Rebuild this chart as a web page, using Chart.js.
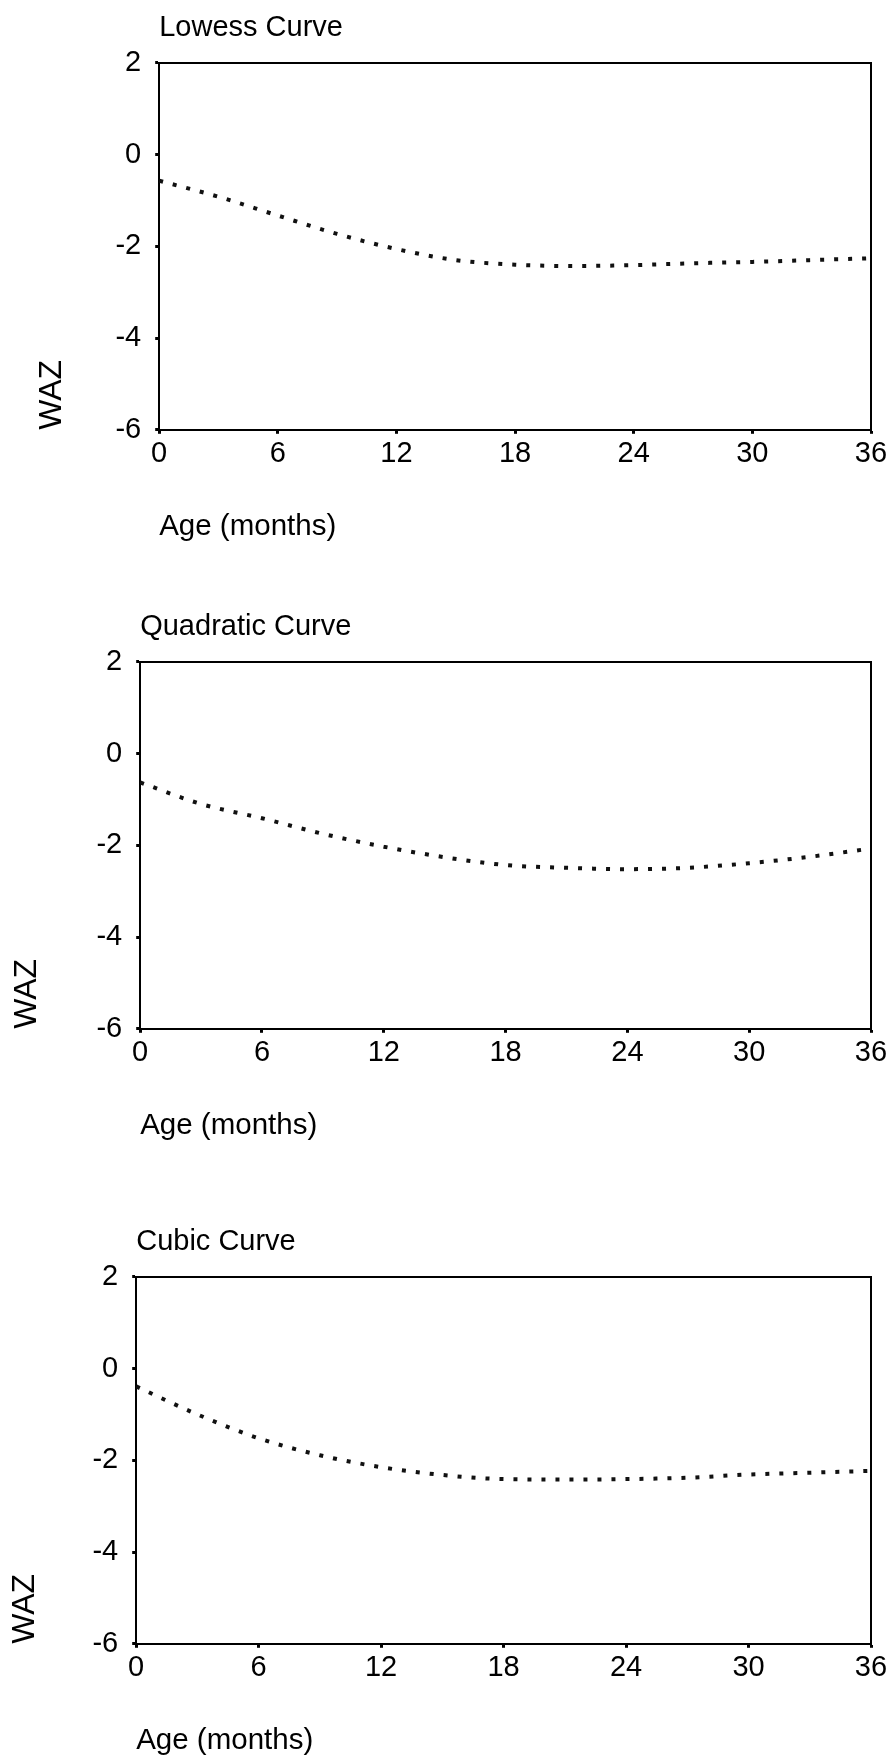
<!DOCTYPE html>
<html>
<head>
<meta charset="utf-8">
<script src="https://cdn.jsdelivr.net/npm/chart.js@4.4.1/dist/chart.umd.min.js"></script>
<style>
    html, body { margin: 0; padding: 0; background: #fff; overflow: hidden; }
    body { width: 886px; height: 1757px; position: relative; }
    canvas { position: absolute; left: 0; }
</style>
</head>
<body>
<canvas id="lowessChart" width="886" height="549" style="top:0px"></canvas>
<canvas id="quadraticChart" width="886" height="549" style="top:599px"></canvas>
<canvas id="cubicChart" width="886" height="549" style="top:1214px"></canvas>

<script>
/* -------------------------------------------------------------------------- */
/*  1. DONNÉES                                                                */
/* -------------------------------------------------------------------------- */

const AGES = [0, 3, 6, 9, 12, 15, 18, 21, 24, 27, 30, 33, 36];
const X_TICKS = [0, 6, 12, 18, 24, 30, 36];
const Y_TICKS = [-6, -4, -2, 0, 2];

const LOWESS_WAZ    = [-0.57, -0.92, -1.33, -1.73, -2.06, -2.30, -2.40, -2.43, -2.41, -2.37, -2.34, -2.30, -2.26];
const QUADRATIC_WAZ = [-0.63, -1.10, -1.41, -1.75, -2.03, -2.26, -2.43, -2.49, -2.52, -2.49, -2.39, -2.25, -2.07];
const CUBIC_WAZ     = [-0.39, -1.00, -1.52, -1.89, -2.15, -2.32, -2.41, -2.42, -2.41, -2.38, -2.31, -2.27, -2.23];

const FONT = "'Liberation Sans', Arial, Helvetica, sans-serif";

/* -------------------------------------------------------------------------- */
/*  2. GRAPHIQUE                                                              */
/* -------------------------------------------------------------------------- */

// wazX = centre du titre vertical, plotLeft = bord gauche de la zone de tracé
function createCurveChart(canvasId, title, values, wazX, plotLeft) {
    const ctx = document.getElementById(canvasId);
    const wazPadTop = wazX - 19;
    const wazPadBottom = plotLeft - 97 - wazPadTop;

    const axisBorder = { display: true, color: "#000", width: 2 };
    const tickGrid = {
        display: true,
        drawOnChartArea: false,
        drawTicks: true,
        tickLength: 4,
        tickWidth: 3,
        tickColor: "#000"
    };

    return new Chart(ctx, {
        type: "line",
        data: {
            datasets: [{
                data: AGES.map((age, i) => ({ x: age, y: values[i] })),
                borderColor: "#111",
                borderWidth: 4,
                borderDash: [4, 10],
                borderCapStyle: "butt",
                pointRadius: 0,
                cubicInterpolationMode: "monotone",
                fill: false
            }]
        },
        options: {
            responsive: false,
            animation: false,
            devicePixelRatio: 1,
            layout: { padding: 0 },
            plugins: {
                legend: { display: false },
                tooltip: { enabled: false },
                title: {
                    display: true,
                    text: title,
                    align: "start",
                    fullSize: false,
                    color: "#000",
                    font: { family: FONT, size: 29, weight: "normal" },
                    padding: { top: 11, bottom: 9 }
                }
            },
            scales: {
                x: {
                    type: "linear",
                    position: "bottom",
                    min: 0,
                    max: 36,
                    afterBuildTicks: axis => { axis.ticks = X_TICKS.map(v => ({ value: v })); },
                    afterFit: axis => { axis.paddingRight = 15; },
                    ticks: {
                        color: "#000",
                        padding: 3,
                        maxRotation: 0,
                        font: { family: FONT, size: 29 }
                    },
                    grid: tickGrid,
                    border: axisBorder,
                    title: {
                        display: true,
                        text: "Age (months)",
                        align: "start",
                        color: "#000",
                        font: { family: FONT, size: 29.5 },
                        padding: { top: 35, bottom: 4 }
                    }
                },
                y: {
                    type: "linear",
                    position: "left",
                    min: -6,
                    max: 2,
                    afterBuildTicks: axis => { axis.ticks = Y_TICKS.map(v => ({ value: v })); },
                    ticks: {
                        color: "#000",
                        padding: 14,
                        font: { family: FONT, size: 29 }
                    },
                    grid: tickGrid,
                    border: axisBorder,
                    title: {
                        display: true,
                        text: "WAZ",
                        align: "start",
                        color: "#000",
                        font: { family: FONT, size: 32 },
                        padding: { top: wazPadTop, bottom: wazPadBottom }
                    }
                },
                // cadre haut et droit
                xTop: {
                    type: "linear",
                    position: "top",
                    min: 0,
                    max: 36,
                    ticks: { display: false },
                    grid: { display: false },
                    border: axisBorder
                },
                yRight: {
                    type: "linear",
                    position: "right",
                    min: -6,
                    max: 2,
                    ticks: { display: false },
                    grid: { display: false },
                    border: axisBorder
                }
            }
        }
    });
}

/* -------------------------------------------------------------------------- */
/*  3. LANCEMENT                                                              */
/* -------------------------------------------------------------------------- */

createCurveChart("lowessChart", "Lowess Curve", LOWESS_WAZ, 52, 160);
createCurveChart("quadraticChart", "Quadratic Curve", QUADRATIC_WAZ, 27, 141);
createCurveChart("cubicChart", "Cubic Curve", CUBIC_WAZ, 25, 137);
</script>
</body>
</html>
